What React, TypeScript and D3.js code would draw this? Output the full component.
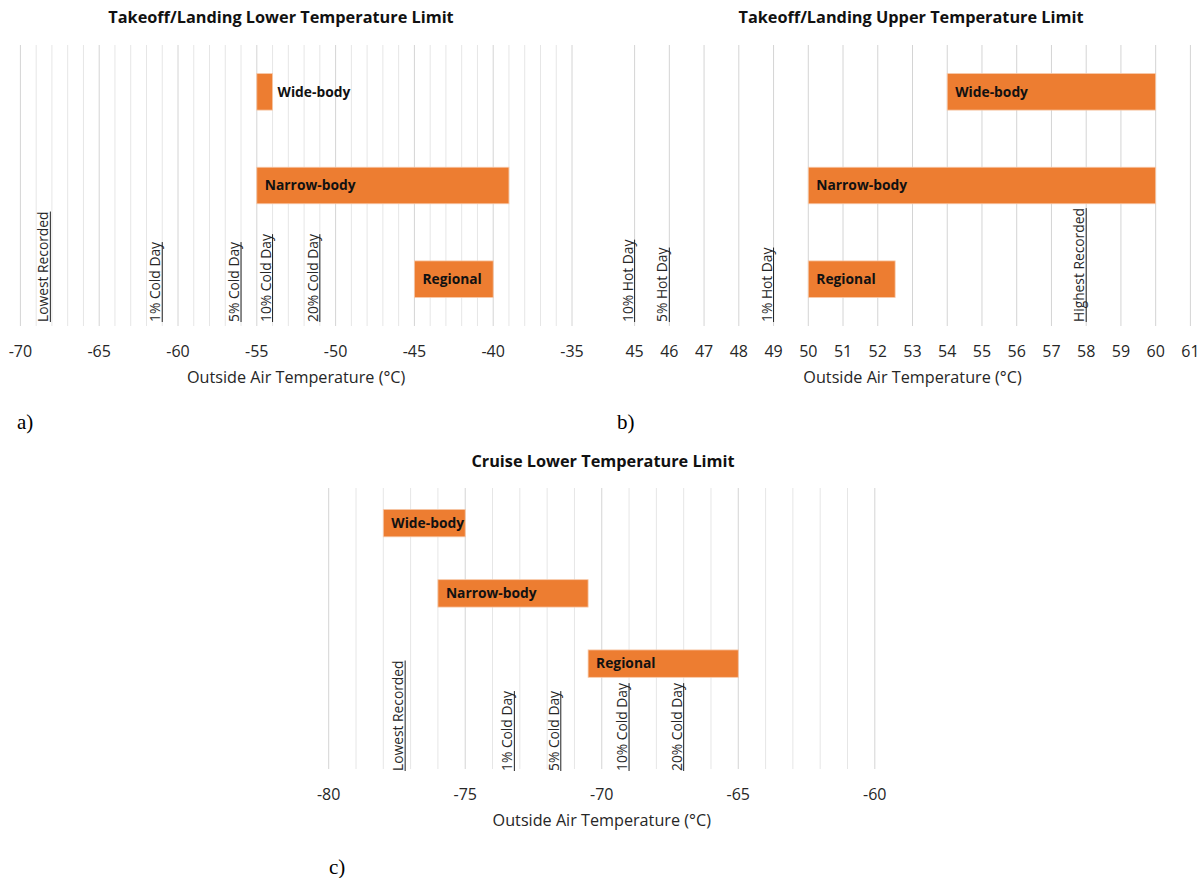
import React from "react";
import * as d3 from "d3";

// ---- Data ----
const categories = ["Wide-body", "Narrow-body", "Regional"];

const lowerTOStart = [-55, -55, -45];
const lowerTOEnd = [-54, -39, -40];
const lowerTOMarkerNames = ["Lowest Recorded", "1% Cold Day", "5% Cold Day", "10% Cold Day", "20% Cold Day"];
const lowerTOMarkerValues = [-68.1, -61, -56, -54, -51];
const lowerTOTicks = [-70, -65, -60, -55, -50, -45, -40, -35];

const upperTOStart = [54, 50, 50];
const upperTOEnd = [60, 60, 52.5];
const upperTOMarkerNames = ["10% Hot Day", "5% Hot Day", "1% Hot Day", "Highest Recorded"];
const upperTOMarkerValues = [45, 46, 49, 58];
const upperTOTicks = [45, 46, 47, 48, 49, 50, 51, 52, 53, 54, 55, 56, 57, 58, 59, 60, 61];

const cruiseStart = [-78, -76, -70.5];
const cruiseEnd = [-75, -70.5, -65];
const cruiseMarkerNames = ["Lowest Recorded", "1% Cold Day", "5% Cold Day", "10% Cold Day", "20% Cold Day"];
const cruiseMarkerValues = [-77.2, -73.2, -71.5, -69, -67];
const cruiseTicks = [-80, -75, -70, -65, -60];

const FONT = "'Open Sans', 'Noto Sans', sans-serif";
const BAR = "#ED7D31";

type PanelProps = {
  title: string;
  titleX: number;
  titleY: number;
  x0: number;
  x1: number;
  top: number;
  bottom: number;
  domain: [number, number];
  ticks: number[];
  minorStep: number;
  majorStep: number;
  starts: number[];
  ends: number[];
  slots: number;
  markerNames: string[];
  markerValues: number[];
  markerBottom: number;
  letter: string;
  letterX: number;
  letterY: number;
};

function Panel(p: PanelProps) {
  const x = d3.scaleLinear().domain(p.domain).range([p.x0, p.x1]);
  const slotIdx = d3.range(p.slots).map(String);
  const y = d3
    .scaleBand<string>()
    .domain(slotIdx)
    .range([p.top, p.bottom])
    .paddingInner(0.61)
    .paddingOuter(0.305);
  const minor = d3.range(p.domain[0], p.domain[1] + 1e-9, p.minorStep);
  const isMajor = (v: number) => Math.abs(Math.round(v / p.majorStep) * p.majorStep - v) < 1e-6;
  const cx = (p.x0 + p.x1) / 2;
  return (
    <g>
      <text x={p.titleX} y={p.titleY} textAnchor="middle" fontFamily={FONT} fontWeight="bold" fontSize={16.3} fill="#111">
        {p.title}
      </text>
      {minor.map((v, i) => (
        <line
          key={"g" + i}
          x1={x(v)}
          x2={x(v)}
          y1={p.top}
          y2={p.bottom}
          stroke={isMajor(v) ? "#d4d4d4" : "#e6e6e6"}
          strokeWidth={1}
        />
      ))}
      {categories.map((c, i) => {
        const bx = x(p.starts[i]);
        const bw = x(p.ends[i]) - bx;
        const by = y(String(i)) as number;
        const bh = y.bandwidth();
        const fits = bw > 60;
        return (
          <g key={"b" + i}>
            <rect x={bx} y={by} width={bw} height={bh} fill={BAR} stroke="#f7c9a9" strokeWidth={0.8} />
            <text
              x={fits ? bx + 8 : bx + bw + 5}
              y={by + bh / 2}
              dy="0.35em"
              fontFamily={FONT}
              fontWeight="bold"
              fontSize={13.8}
              fill="#111"
            >
              {c}
            </text>
          </g>
        );
      })}
      {p.markerNames.map((m, i) => {
        const mx = x(p.markerValues[i]);
        return <MarkerLabel key={"m" + i} name={m} x={mx} bottom={p.markerBottom} />;
      })}
      {p.ticks.map((t, i) => (
        <text key={"t" + i} x={x(t)} y={p.bottom + 31} textAnchor="middle" fontFamily={FONT} fontSize={16} fill="#262626">
          {t}
        </text>
      ))}
      <text x={cx} y={p.bottom + 57} textAnchor="middle" fontFamily={FONT} fontSize={16.2} fill="#262626">
        Outside Air Temperature (°C)
      </text>
      <text x={p.letterX} y={p.letterY} fontFamily="'Liberation Serif', 'Times New Roman', serif" fontSize={21} fill="#000">
        {p.letter}
      </text>
    </g>
  );
}

function MarkerLabel({ name, x, bottom }: { name: string; x: number; bottom: number }) {
  const ref = React.useRef<SVGTextElement>(null);
  const [len, setLen] = React.useState(0);
  React.useLayoutEffect(() => {
    if (ref.current) setLen(ref.current.getComputedTextLength());
  }, [name]);
  return (
    <g>
      <text
        ref={ref}
        transform={`translate(${x - 2},${bottom}) rotate(-90)`}
        fontFamily={FONT}
        fontSize={13.8}
        fill="#262626"
      >
        {name}
      </text>
      <line x1={x} x2={x} y1={bottom} y2={bottom - len} stroke="#222" strokeWidth={1} />
    </g>
  );
}

export default function App() {
  return (
    <svg width={1203} height={878} style={{ position: "absolute", left: 0, top: 0, background: "#fff" }}>
      <Panel
        title="Takeoff/Landing Lower Temperature Limit"
        titleX={281}
        titleY={23}
        x0={20.4}
        x1={572}
        top={45}
        bottom={326}
        domain={[-70, -35]}
        ticks={lowerTOTicks}
        minorStep={1}
        majorStep={5}
        starts={lowerTOStart}
        ends={lowerTOEnd}
        slots={3}
        markerNames={lowerTOMarkerNames}
        markerValues={lowerTOMarkerValues}
        markerBottom={322}
        letter="a)"
        letterX={17}
        letterY={429}
      />
      <Panel
        title="Takeoff/Landing Upper Temperature Limit"
        titleX={911}
        titleY={23}
        x0={634.6}
        x1={1190.4}
        top={45}
        bottom={326}
        domain={[45, 61]}
        ticks={upperTOTicks}
        minorStep={1}
        majorStep={1}
        starts={upperTOStart}
        ends={upperTOEnd}
        slots={3}
        markerNames={upperTOMarkerNames}
        markerValues={upperTOMarkerValues}
        markerBottom={322}
        letter="b)"
        letterX={617}
        letterY={429}
      />
      <Panel
        title="Cruise Lower Temperature Limit"
        titleX={603}
        titleY={467}
        x0={328.7}
        x1={874.8}
        top={488}
        bottom={769}
        domain={[-80, -60]}
        ticks={cruiseTicks}
        minorStep={1}
        majorStep={5}
        starts={cruiseStart}
        ends={cruiseEnd}
        slots={4}
        markerNames={cruiseMarkerNames}
        markerValues={cruiseMarkerValues}
        markerBottom={771}
        letter="c)"
        letterX={329}
        letterY={874}
      />
    </svg>
  );
}
